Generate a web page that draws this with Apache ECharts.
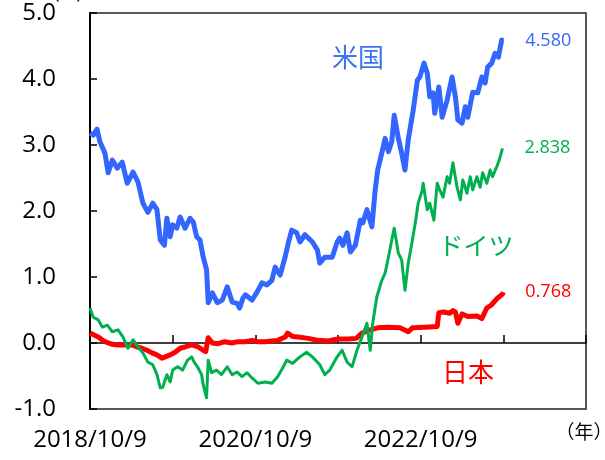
<!DOCTYPE html>
<html>
<head>
<meta charset="utf-8">
<script src="https://cdn.jsdelivr.net/npm/echarts@6/dist/echarts.min.js"></script>
<style>html,body{margin:0;padding:0;background:#fff}#c{width:605px;height:460px}</style>
</head>
<body>
<div id="c"></div>
<script>
// x values: years elapsed since 2018/10/9
const tickLabels = ['2018/10/9', '', '2020/10/9', '', '2022/10/9', '', ''];
const seriesNames = ['米国', 'ドイツ', '日本'];
const endLabelTexts = ['4.580', '2.838', '0.768'];

const usT = [0.00,0.04,0.085,0.12,0.18,0.22,0.27,0.33,0.39,0.45,0.52,0.58,0.64,0.70,0.76,0.81,0.85,0.90,0.93,0.97,1.00,1.05,1.09,1.15,1.21,1.25,1.29,1.33,1.37,1.41,1.43,1.48,1.54,1.60,1.66,1.72,1.78,1.81,1.85,1.88,1.96,2.02,2.08,2.14,2.20,2.24,2.30,2.36,2.40,2.44,2.50,2.54,2.60,2.69,2.75,2.78,2.84,2.93,2.99,3.02,3.06,3.11,3.15,3.21,3.27,3.30,3.35,3.41,3.45,3.48,3.53,3.57,3.61,3.65,3.68,3.73,3.77,3.81,3.85,3.91,3.96,3.99,4.04,4.08,4.11,4.15,4.17,4.22,4.26,4.32,4.38,4.42,4.45,4.50,4.54,4.57,4.63,4.69,4.74,4.78,4.81,4.86,4.90,4.94,4.98,5.00];
const usYield = [3.18,3.15,3.24,3.05,2.88,2.58,2.77,2.65,2.74,2.42,2.59,2.44,2.12,1.98,2.12,2.02,1.56,1.48,1.89,1.61,1.79,1.74,1.91,1.74,1.89,1.83,1.61,1.56,1.30,1.11,0.61,0.76,0.61,0.65,0.85,0.62,0.60,0.53,0.68,0.73,0.65,0.77,0.91,0.88,0.95,1.15,1.03,1.30,1.52,1.71,1.67,1.53,1.64,1.53,1.41,1.21,1.30,1.30,1.53,1.59,1.48,1.67,1.38,1.48,1.86,1.82,2.02,1.76,2.32,2.62,2.88,3.10,2.90,3.05,3.45,3.10,2.88,2.62,3.08,3.53,3.98,4.03,4.24,4.09,3.73,3.79,3.48,3.88,3.42,3.68,4.03,3.73,3.38,3.33,3.58,3.42,3.80,3.79,4.03,3.94,4.18,4.24,4.39,4.33,4.59,4.58];

const deT = [0.00,0.04,0.10,0.15,0.21,0.27,0.34,0.40,0.46,0.52,0.58,0.64,0.70,0.76,0.81,0.85,0.88,0.93,0.97,1.00,1.06,1.12,1.18,1.23,1.26,1.30,1.35,1.37,1.41,1.43,1.47,1.53,1.59,1.66,1.72,1.78,1.84,1.90,1.96,2.03,2.12,2.20,2.27,2.33,2.38,2.45,2.54,2.62,2.69,2.78,2.84,2.90,2.99,3.05,3.11,3.17,3.23,3.29,3.35,3.39,3.42,3.47,3.53,3.57,3.61,3.65,3.68,3.70,3.73,3.77,3.81,3.85,3.90,3.94,3.97,4.02,4.03,4.08,4.11,4.16,4.20,4.23,4.27,4.32,4.35,4.39,4.44,4.48,4.51,4.56,4.60,4.63,4.68,4.72,4.75,4.80,4.84,4.87,4.92,4.95,4.99];
const deYield = [0.53,0.39,0.35,0.24,0.27,0.17,0.20,0.09,-0.08,0.05,-0.06,-0.15,-0.29,-0.33,-0.48,-0.68,-0.67,-0.48,-0.59,-0.41,-0.36,-0.41,-0.26,-0.21,-0.29,-0.36,-0.48,-0.64,-0.83,-0.26,-0.45,-0.41,-0.48,-0.36,-0.48,-0.44,-0.51,-0.45,-0.53,-0.61,-0.59,-0.61,-0.51,-0.38,-0.26,-0.31,-0.21,-0.14,-0.21,-0.33,-0.48,-0.41,-0.21,-0.11,-0.29,-0.36,-0.11,0.09,0.30,-0.11,0.30,0.70,0.95,1.06,1.30,1.56,1.74,1.76,1.36,1.26,0.80,1.21,1.56,1.86,2.12,2.32,2.42,2.02,2.12,1.86,2.42,2.32,2.21,2.52,2.42,2.73,2.36,2.17,2.47,2.27,2.52,2.32,2.52,2.36,2.58,2.42,2.62,2.52,2.67,2.77,2.95];

const jpT = [0.00,0.10,0.18,0.27,0.34,0.42,0.51,0.57,0.63,0.69,0.75,0.81,0.87,0.91,0.97,1.03,1.09,1.15,1.23,1.31,1.37,1.40,1.43,1.48,1.55,1.63,1.72,1.79,1.88,1.96,2.03,2.12,2.20,2.27,2.36,2.39,2.45,2.52,2.64,2.76,2.88,3.00,3.12,3.22,3.29,3.39,3.48,3.60,3.75,3.85,3.90,4.05,4.20,4.22,4.28,4.35,4.39,4.42,4.45,4.50,4.57,4.68,4.74,4.80,4.86,4.92,4.99,5.00];
const jpYield = [0.15,0.09,0.02,-0.02,-0.03,-0.03,-0.03,-0.06,-0.08,-0.11,-0.15,-0.18,-0.23,-0.21,-0.18,-0.14,-0.08,-0.06,-0.03,-0.06,-0.11,-0.13,0.08,0.00,-0.01,0.02,0.00,0.02,0.02,0.04,0.02,0.02,0.03,0.04,0.09,0.15,0.10,0.09,0.07,0.04,0.03,0.06,0.06,0.07,0.15,0.20,0.23,0.24,0.23,0.17,0.23,0.24,0.25,0.46,0.47,0.45,0.49,0.47,0.30,0.44,0.40,0.41,0.37,0.53,0.58,0.67,0.74,0.77];

const colors = ['#3366FF', '#00B050', '#FF0000'];
const widths = [5, 3, 5];
const zs = [3, 5, 4];
const tSets = [usT, deT, jpT];
const ySets = [usYield, deYield, jpYield];

const chart = echarts.init(document.getElementById('c'), null, {renderer: 'canvas'});
const series = seriesNames.map((name, i) => ({
  name: name,
  type: 'line',
  xAxisIndex: 0,
  data: tSets[i].map((t, k) => [t, ySets[i][k]]),
  symbol: 'none',
  z: zs[i],
  lineStyle: {color: colors[i], width: widths[i], join: 'round'},
  itemStyle: {color: colors[i]},
  endLabel: {
    show: true,
    formatter: () => endLabelTexts[i],
    color: colors[i],
    fontSize: 18,
    fontFamily: 'Open Sans',
    distance: 22
  },
  animation: false
}));

const labelFont = 'Open Sans';
chart.setOption({
  animation: false,
  grid: {left: 90, right: 19, top: 13, bottom: 51, show: true, borderColor: '#222', borderWidth: 1.5},
  xAxis: [
    {type: 'value', min: 0, max: 6, interval: 1,
     axisLine: {onZero: true, lineStyle: {color: '#000', width: 1.5}},
     axisTick: {show: true, inside: true, length: 8, lineStyle: {color: '#000', width: 1.5}},
     axisLabel: {show: false}, splitLine: {show: false}},
    {type: 'value', min: 0, max: 6, interval: 1, position: 'bottom',
     axisLine: {show: false, onZero: false}, axisTick: {show: false}, splitLine: {show: false},
     axisLabel: {formatter: v => tickLabels[Math.round(v)], margin: 19, fontSize: 24, color: '#000', fontFamily: labelFont}}
  ],
  yAxis: {
    type: 'value', min: -1, max: 5, interval: 1,
    axisLine: {show: true, onZero: false, lineStyle: {color: '#000', width: 2}},
    axisTick: {show: true, inside: true, length: 7, lineStyle: {color: '#000', width: 1.5}},
    axisLabel: {formatter: v => v.toFixed(1), margin: 34, fontSize: 24, color: '#000', fontFamily: labelFont},
    splitLine: {show: false}
  },
  graphic: [
    {type: 'text', x: 68, y: -8, style: {text: '(%)', fontSize: 20, fontFamily: labelFont, fill: '#000', align: 'center', verticalAlign: 'middle'}},
    {type: 'text', x: 358, y: 57, style: {text: seriesNames[0], fontSize: 26, fontFamily: 'Noto Sans CJK JP', fill: '#3F72F2', align: 'center', verticalAlign: 'middle'}},
    {type: 'text', x: 476, y: 245, style: {text: seriesNames[1], fontSize: 25, fontFamily: 'Noto Sans CJK JP', fill: colors[1], align: 'center', verticalAlign: 'middle'}},
    {type: 'text', x: 468, y: 372, style: {text: seriesNames[2], fontSize: 26, fontFamily: 'Noto Sans CJK JP', fill: colors[2], align: 'center', verticalAlign: 'middle'}},
    {type: 'text', x: 584, y: 432, style: {text: '（年）', fontSize: 19, fontFamily: 'Noto Sans CJK JP', fill: '#000', align: 'center', verticalAlign: 'middle'}}
  ],
  series: series
});
</script>
</body>
</html>
